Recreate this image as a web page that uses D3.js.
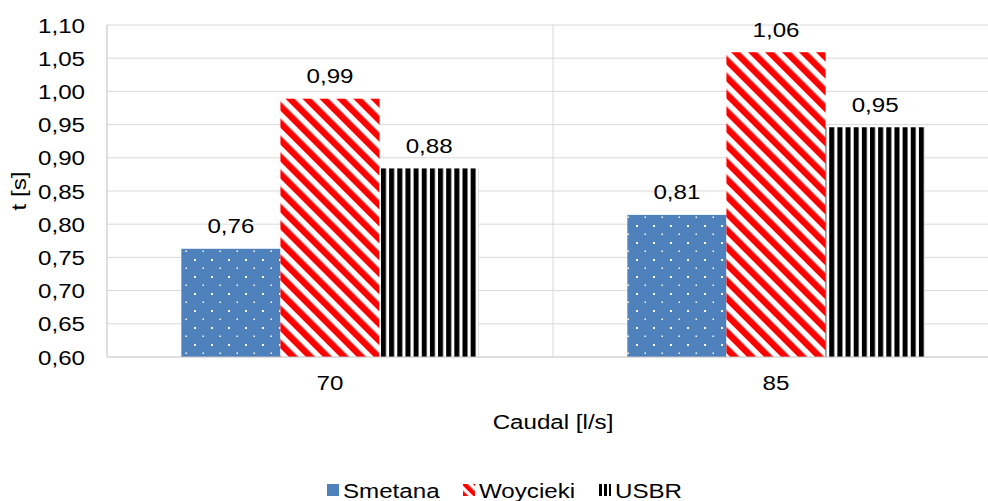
<!DOCTYPE html>
<html><head><meta charset="utf-8">
<script src="https://cdn.jsdelivr.net/npm/d3@7"></script>
<style>body{margin:0;background:#fff}svg{display:block;font-family:"Liberation Sans",Arial,sans-serif}</style>
</head><body>
<svg id="c" width="988" height="501"></svg>
<script>
const categories = ["70", "85"];
const seriesNames = ["Smetana", "Woycieki", "USBR"];
const smetana = [0.763, 0.814];
const woycieki = [0.989, 1.059];
const usbr = [0.884, 0.946];
const valueLabels = [["0,76", "0,81"], ["0,99", "1,06"], ["0,88", "0,95"]];
const yTicks = [0.60, 0.65, 0.70, 0.75, 0.80, 0.85, 0.90, 0.95, 1.00, 1.05, 1.10];

const series = [smetana, woycieki, usbr];
const svg = d3.select("#c");
const L = 107, R = 999, T = 25, B = 357;
const FS = 21, SX = 1.15, BL = 7.5;
const fmt = v => v.toFixed(2).replace(".", ",");

function label(x, y, str, anchor, rot) {
  const g = svg.append("g").attr("transform", `translate(${x},${y})${rot ? ` rotate(${rot})` : ""} scale(${SX},1)`);
  g.append("text").attr("text-anchor", anchor).attr("font-size", FS).attr("fill", "#000").text(str);
}

const defs = svg.append("defs");
const p1 = defs.append("pattern").attr("id","pSm").attr("patternUnits","userSpaceOnUse")
  .attr("width",17).attr("height",17).attr("x",0).attr("y",0);
p1.append("rect").attr("width",17).attr("height",17).attr("fill","#4f81bd");
p1.append("rect").attr("x",7).attr("y",4).attr("width",2).attr("height",2).attr("fill","#fff");
p1.append("rect").attr("x",15.5).attr("y",12.5).attr("width",2).attr("height",1.5).attr("fill","#fff");
const p2 = defs.append("pattern").attr("id","pWo").attr("patternUnits","userSpaceOnUse")
  .attr("width",12).attr("height",12).attr("patternTransform","rotate(-45)");
p2.append("rect").attr("width",12).attr("height",12).attr("fill","#fff");
p2.append("rect").attr("width",6.5).attr("height",12).attr("fill","#ff0000");
const p3 = defs.append("pattern").attr("id","pUs").attr("patternUnits","userSpaceOnUse")
  .attr("width",8.15).attr("height",10).attr("x",381);
p3.append("rect").attr("width",8.15).attr("height",10).attr("fill","#fff");
p3.append("rect").attr("width",5).attr("height",10).attr("fill","#000");
const fills = ["url(#pSm)","url(#pWo)","url(#pUs)"];

const x0 = d3.scaleBand().domain(categories).range([L, R]).paddingInner(0).paddingOuter(0);
const x1 = d3.scaleBand().domain(seriesNames).range([0, x0.bandwidth()]).paddingInner(0).paddingOuter(0.75);
const y = d3.scaleLinear().domain([0.6, 1.1]).range([B, T]);

svg.append("g").selectAll("line").data(yTicks.slice(1)).join("line")
  .attr("x1", L).attr("x2", R).attr("y1", d => y(d)).attr("y2", d => y(d))
  .attr("stroke", "#d9d9d9").attr("stroke-width", 1);
svg.append("g").selectAll("line").data(categories.slice(1)).join("line")
  .attr("x1", d => x0(d)).attr("x2", d => x0(d)).attr("y1", T).attr("y2", B)
  .attr("stroke", "#d9d9d9");
svg.append("line").attr("x1", L).attr("x2", L).attr("y1", T).attr("y2", B).attr("stroke", "#bfbfbf");

yTicks.forEach(t => label(85, y(t) + BL, fmt(t), "end"));

categories.forEach((c, ci) => {
  seriesNames.forEach((s, si) => {
    const v = series[si][ci];
    const bx = x0(c) + x1(s);
    svg.append("rect").attr("x", bx).attr("y", y(v)).attr("width", x1.bandwidth())
      .attr("height", B - y(v)).attr("fill", fills[si]);
    label(bx + x1.bandwidth() / 2, y(v) - 15.5, valueLabels[si][ci], "middle");
  });
});

svg.append("line").attr("x1", L).attr("x2", R).attr("y1", B).attr("y2", B).attr("stroke", "#bfbfbf");

categories.forEach(c => label(x0(c) + x0.bandwidth() / 2, 389.5, c, "middle"));

label(553, 428.5, "Caudal [l/s]", "middle");
label(25.5, 191, "t [s]", "middle", -90);

const legendX = [327, 463, 599];
const lp2 = defs.append("pattern").attr("id","lWo").attr("patternUnits","userSpaceOnUse")
  .attr("width",8).attr("height",8).attr("patternTransform","rotate(-45)");
lp2.append("rect").attr("width",8).attr("height",8).attr("fill","#fff");
lp2.append("rect").attr("width",4.5).attr("height",8).attr("fill","#ff0000");
const lp3 = defs.append("pattern").attr("id","lUs").attr("patternUnits","userSpaceOnUse")
  .attr("width",5).attr("height",10).attr("x",599);
lp3.append("rect").attr("width",5).attr("height",10).attr("fill","#fff");
lp3.append("rect").attr("width",3).attr("height",10).attr("fill","#000");
const lfills = ["#4f81bd", "url(#lWo)", "url(#lUs)"];
seriesNames.forEach((s, i) => {
  svg.append("rect").attr("x", legendX[i]).attr("y", 484).attr("width", 12).attr("height", 12).attr("fill", lfills[i]);
  label(legendX[i] + 16, 497.5, s, "start");
});
</script>
</body></html>
